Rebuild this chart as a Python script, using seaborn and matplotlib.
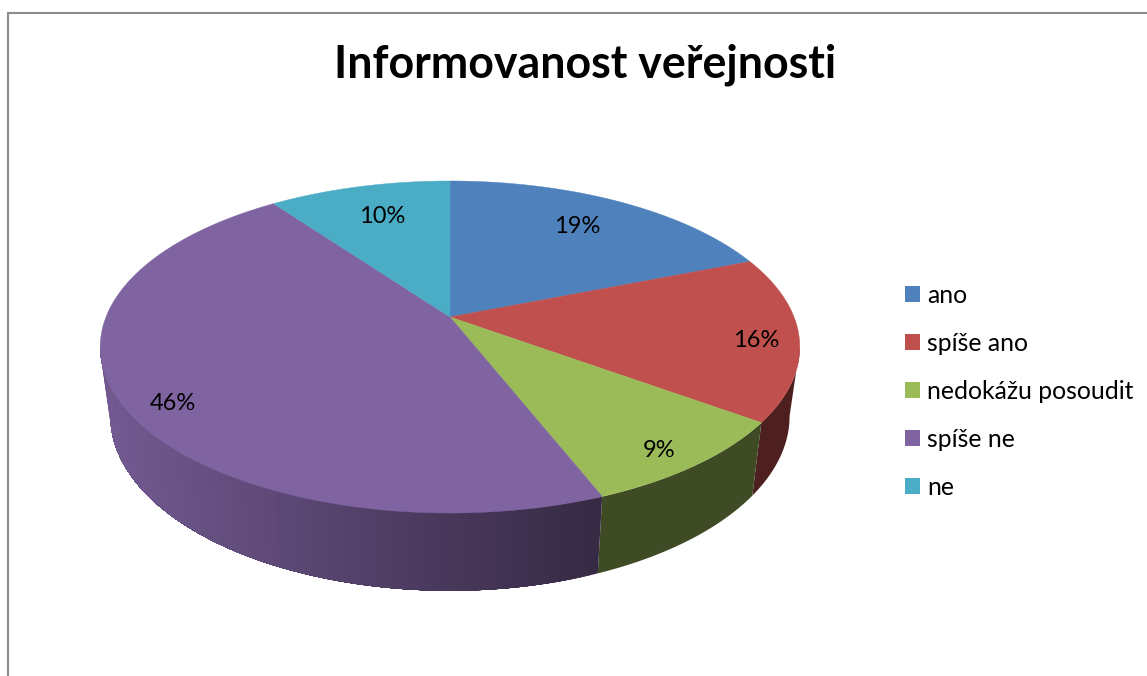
import numpy as np
import matplotlib
matplotlib.use("Agg")
import matplotlib.pyplot as plt
from matplotlib.patches import Patch
import seaborn as sns

title = "Informovanost veřejnosti"
categories = ["ano", "spíše ano", "nedokážu posoudit", "spíše ne", "ne"]
percent = [19, 16, 9, 46, 10]
hex_colors = ["#4F81BD", "#C0504D", "#9BBB59", "#8064A2", "#4BACC6"]

# layout of the 3D projection (pixels of the figure)
CX = 450
TOP = dict(a=344.0, b=160.6, y0=317.0)
BOT = dict(a=334.0, b=169.0, y0=384.5)
K = 0.1807
label_r = [0.73, 0.88, 0.87, 0.85, 0.72]
label_dy = [-3, 5, 7, 15, -3]

sns.set_theme(style="white")
plt.rcParams["font.family"] = ["Lato", "DejaVu Sans"]
palette = sns.color_palette(hex_colors)

W, H = 1147, 676
fig = plt.figure(figsize=(W / 100, H / 100), dpi=100, facecolor="white")
ax = fig.add_axes([0, 0, 1, 1])
ax.set_xlim(0, W)
ax.set_ylim(H, 0)
ax.axis("off")


def project(theta, r, p):
    u, v = r * np.sin(theta), r * np.cos(theta)
    w = 1 + K * v
    return CX + p["a"] * u / w, p["y0"] - p["b"] * v / w


def shade(color, f):
    return tuple(c * f for c in color)


def wall_polygon(lo, hi):
    ts = np.linspace(lo, hi, 160)
    xt, yt = project(ts, 1, TOP)
    xb, yb = project(ts, 1, BOT)
    return np.r_[xt, xb[::-1]], np.r_[yt, yb[::-1]], xb[0]


edges = np.r_[0, np.cumsum(percent)] / sum(percent) * 2 * np.pi
wall_start, wall_end = np.radians(100.4), np.radians(259.6)

# side wall: only the front part is visible
wall_factor = [0.40, 0.40, 0.40, None, 0.40]
for i, col in enumerate(palette):
    lo, hi = max(edges[i], wall_start), min(edges[i + 1], wall_end)
    if hi <= lo:
        continue
    if wall_factor[i] is not None:
        xs, ys, _ = wall_polygon(lo, hi)
        ax.fill(xs, ys, color=shade(col, wall_factor[i]), lw=0, zorder=2)
        continue
    # gradient wall: each arc starts further left and overpaints the last
    for t0 in np.linspace(lo, hi, 80, endpoint=False):
        xs, ys, xstart = wall_polygon(t0, hi)
        f = 0.90 - 0.48 * (xstart - 110) / 487
        ax.fill(xs, ys, color=shade(col, f), lw=0, zorder=2)

# top surface
for i, col in enumerate(palette):
    ts = np.linspace(edges[i], edges[i + 1], 200)
    xs, ys = project(ts, 1, TOP)
    ax.fill(np.r_[CX, xs], np.r_[TOP["y0"], ys], color=col, lw=0.3, zorder=3)

# percentage labels
for i, val in enumerate(percent):
    mid = (edges[i] + edges[i + 1]) / 2
    x, y = project(mid, label_r[i], TOP)
    ax.text(x, y + label_dy[i], f"{val}%", ha="center", va="center",
            fontsize=17, color="black", zorder=5)

ax.text(585, 65, title, ha="center", va="center", fontsize=32.2,
        fontweight="bold", color="black")

handles = [Patch(facecolor=c, edgecolor="none", label=l)
           for c, l in zip(palette, categories)]
ax.legend(handles=handles, loc="upper left", bbox_to_anchor=(895, 274),
          bbox_transform=ax.transData, frameon=False, fontsize=17.8,
          handlelength=0.61, handleheight=0.61, handletextpad=0.28,
          labelspacing=1.01, borderpad=0.4, borderaxespad=0,
          labelcolor="black")

ax.plot([7.5, 7.5, W], [H, 12.5, 12.5], color="#8c8c8c", lw=1.5,
        solid_joinstyle="miter", zorder=1)

fig.savefig("out.png", dpi=100, facecolor="white")
